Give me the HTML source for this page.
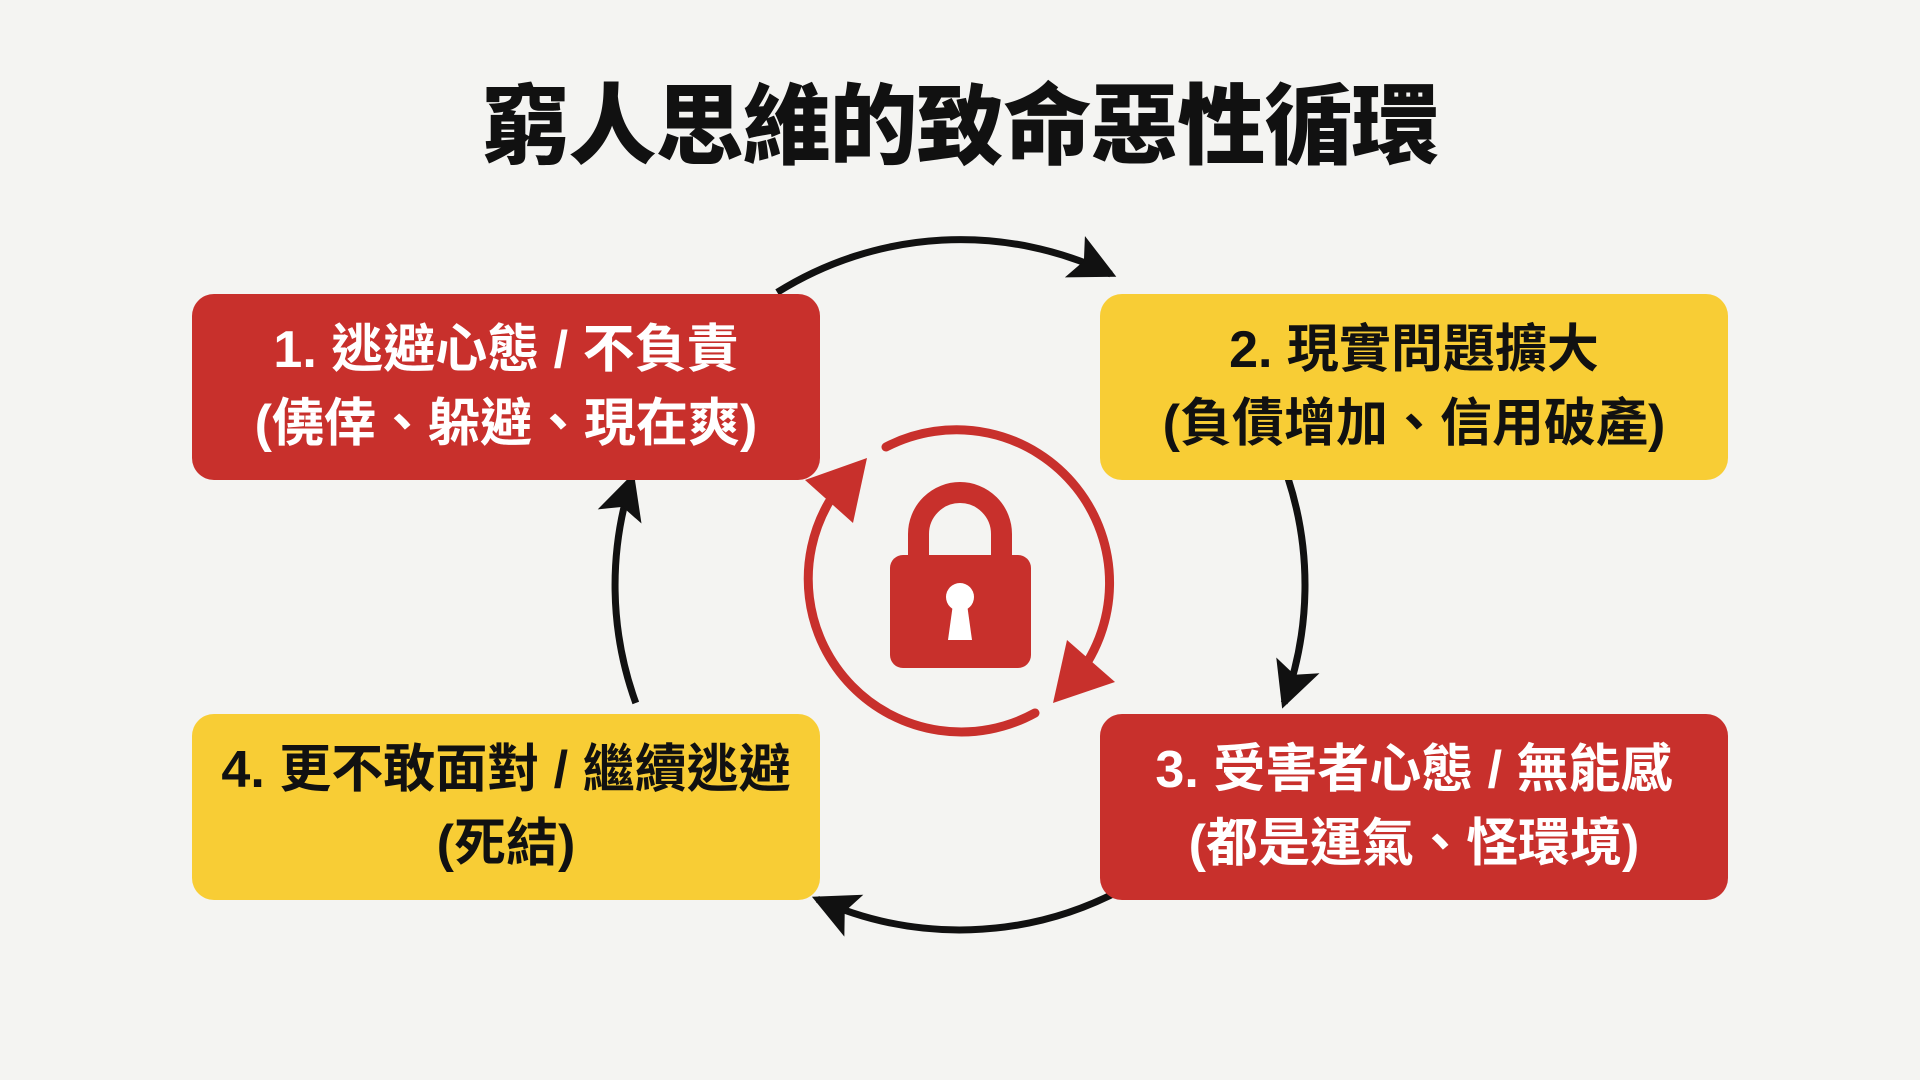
<!DOCTYPE html>
<html><head><meta charset="utf-8"><style>
html,body{margin:0;padding:0;}
body{width:1920px;height:1080px;background:#f4f4f2;position:relative;overflow:hidden;font-family:"Liberation Sans","Noto Sans CJK TC",sans-serif;}
.title{position:absolute;left:0;width:1920px;top:72px;text-align:center;font-size:88px;font-weight:900;color:#111;line-height:110px;letter-spacing:-1px;}
.box{position:absolute;width:628px;height:186px;border-radius:22px;display:flex;flex-direction:column;justify-content:center;align-items:center;font-size:52px;font-weight:bold;line-height:74px;text-align:center;}
.red{background:#c8302c;color:#fff;}
.yel{background:#f8cd35;color:#111;}
svg{position:absolute;left:0;top:0;}
</style></head><body>
<svg width="1920" height="1080" viewBox="0 0 1920 1080">
<defs>
<marker id="ah" markerUnits="userSpaceOnUse" markerWidth="60" markerHeight="60" refX="40" refY="25" orient="auto">
<path d="M0,2 L46,25 L0,48 L10,25 Z" fill="#111"/>
</marker>
</defs>
<g fill="none" stroke="#111" stroke-width="7">
<path d="M777.2,292.4 A345,345 0 0 1 1110.9,274.1" marker-end="url(#ah)"/>
<path d="M1288.1,478.4 A345,345 0 0 1 1284.2,703.0" marker-end="url(#ah)"/>
<path d="M1122.0,889.4 A345,345 0 0 1 817.4,899.2" marker-end="url(#ah)"/>
<path d="M635.8,703.0 A345,345 0 0 1 632.0,478.4" marker-end="url(#ah)"/>
</g>
<g fill="none" stroke="#c8302c" stroke-width="9" stroke-linecap="round">
<path d="M886,447 A153,153 0 0 1 1073,682"/>
<path d="M1035,713 A153,153 0 0 1 829,502"/>
</g>
<polygon points="1067,640 1115,682 1053,703" fill="#c8302c"/>
<polygon points="805,480 867,458 853,523" fill="#c8302c"/>
<path d="M918.5,560 V534 A41.5,41.5 0 0 1 1001.5,534 V560" fill="none" stroke="#c8302c" stroke-width="21"/>
<rect x="890" y="555" width="141" height="113" rx="13" fill="#c8302c"/>
<circle cx="960" cy="597" r="14" fill="#fff"/>
<path d="M953,604 L967,604 L972,640 L948,640 Z" fill="#fff"/>
</svg>
<div class="title">窮人思維的致命惡性循環</div>
<div class="box red" style="left:192px;top:294px;">1. 逃避心態 / 不負責<br>(僥倖、躲避、現在爽)</div>
<div class="box yel" style="left:1100px;top:294px;">2. 現實問題擴大<br>(負債增加、信用破產)</div>
<div class="box red" style="left:1100px;top:714px;">3. 受害者心態 / 無能感<br>(都是運氣、怪環境)</div>
<div class="box yel" style="left:192px;top:714px;">4. 更不敢面對 / 繼續逃避<br>(死結)</div>
</body></html>
